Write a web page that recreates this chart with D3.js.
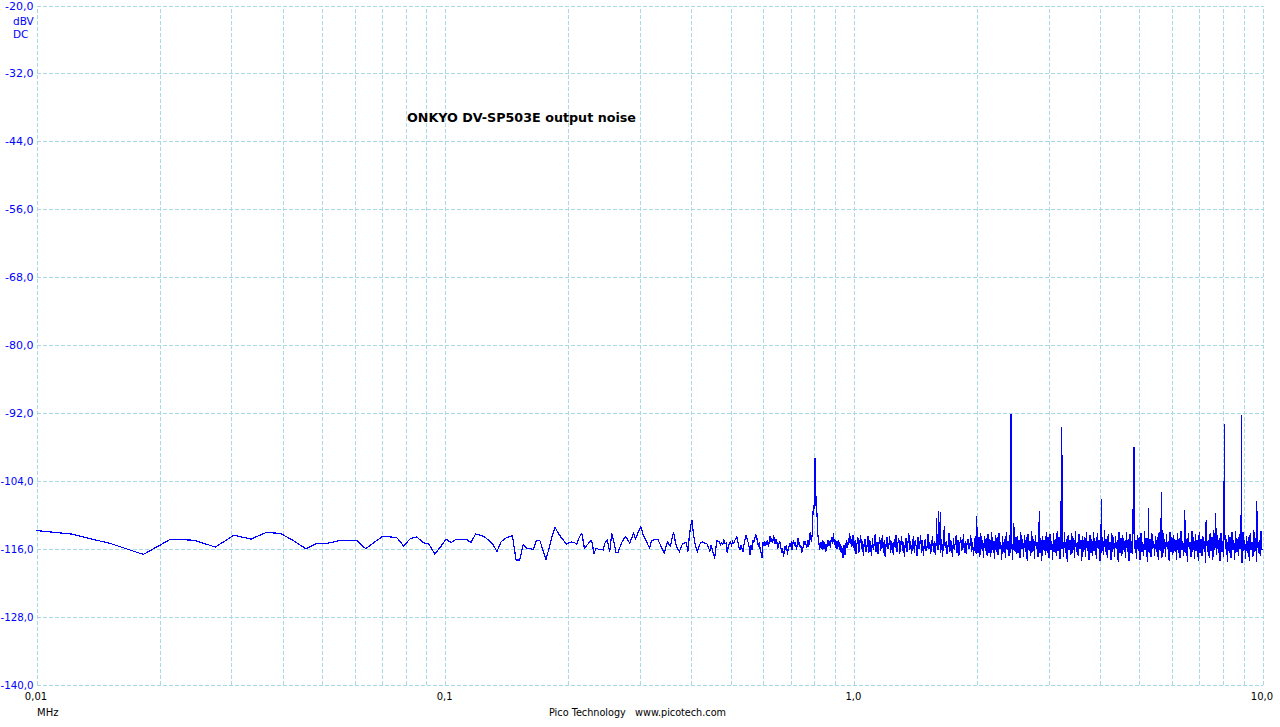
<!DOCTYPE html>
<html>
<head>
<meta charset="utf-8">
<script src="https://cdn.jsdelivr.net/npm/d3@7"></script>
<style>
  html, body { margin: 0; padding: 0; background: #ffffff; }
  svg { display: block; }
</style>
</head>
<body>
<svg id="chart" width="1280" height="727"></svg>
<script>
// ---------------- DATA ----------------
const titleText = "ONKYO DV-SP503E output noise";
const footerText = "Pico Technology   www.picotech.com";
const xUnit = "MHz";
const yUnit = ["dBV", "DC"];

const yTicks = [-20, -32, -44, -56, -68, -80, -92, -104, -116, -128, -140];
const yTickLabels = ["-20,0", "-32,0", "-44,0", "-56,0", "-68,0", "-80,0", "-92,0", "-104,0", "-116,0", "-128,0", "-140,0"];
const xLabelValues = [0.01, 0.1, 1, 10];
const xTickLabels = ["0,01", "0,1", "1,0", "10,0"];

// FFT bins (bin width in MHz), values in dBV for bins 3..327 (up to ~1 MHz)
const binWidth = 0.0030518;
const firstBin = 3;
const binValues = [
  -112.6,-113.5,-115.2,-117.1,-114.4,-114.6,-115.8,-113.7,-114.4,-113.2,-113.4,-114.7,-116.1,-115.1,-115.1,
  -114.7,-114.7,-114.7,-116.1,-115.0,-114.0,-114.0,-114.1,-115.6,-114.3,-114.0,-115.0,-115.3,-117.0,-115.8,
  -114.4,-115.0,-114.4,-114.4,-114.4,-115.0,-113.5,-113.7,-114.0,-114.6,-115.3,-116.6,-114.9,-114.3,-114.0,
  -113.8,-118.1,-118.1,-115.4,-116.0,-116.1,-116.2,-114.6,-114.6,-116.3,-118.0,-116.0,-114.0,-112.3,-113.2,
  -114.0,-114.6,-115.3,-115.0,-114.9,-115.0,-115.3,-114.0,-113.4,-116.0,-115.5,-115.0,-114.6,-116.9,-116.0,
  -116.2,-116.2,-116.3,-114.9,-114.6,-116.7,-113.4,-114.8,-116.8,-116.8,
  -115.8,-114.9,-114.3,-114.0,-114.6,-115.1,-114.2,-113.4,-114.3,-113.6,-112.8,-112.2,-113.4,-114.1,-114.7,
  -115.4,-116.0,-114.7,-114.6,-114.4,-114.5,-114.5,-115.1,-115.8,-116.4,-116.8,-115.7,-114.9,-115.3,-115.6,
  -114.2,-113.1,-114.6,-115.8,-116.2,-116.6,-115.9,-115.3,-115.2,-115.0,-115.1,-116.6,-114.0,-112.2,-111.0,
  -113.2,-114.9,-115.8,-116.6,-115.9,-115.3,-115.0,-114.9,-115.0,-115.1,-115.2,-115.3,-116.0,-116.5,-115.5,
  -116.2,-117.0,-117.8,-116.0,-114.7,-114.8,-114.9,-115.4,-115.1,-115.3,-114.6,-115.2,-115.1,-116.9,-115.6,
  -115.2,-114.9,-115.5,-114.8,-115.1,-114.6,-114.3,-114.0,-115.0,-115.8,-116.3,-115.4,-116.0,-116.6,-115.3,
  -114.4,-113.7,-114.3,-114.9,-115.6,-117.2,-115.5,-116.3,-114.5,-114.9,-114.3,-113.7,-113.9,-114.9,-115.6,
  -115.2,-116.3,-117.0,-117.8,-114.9,-115.6,-114.8,-115.4,-115.1,-114.6,-115.8,-114.8,-113.9,-114.9,-114.3,
  -115.0,-113.7,-114.6,-115.3,-114.5,-114.9,-116.0,-115.8,-114.7,-115.1,-116.0,-116.8,-115.9,-117.5,-116.6,
  -115.7,-116.3,-115.4,-117.2,-116.0,-115.8,-115.1,-115.7,-114.8,-116.3,-115.2,-114.5,-115.6,-114.9,-115.5,
  -116.3,-115.0,-114.3,-115.4,-114.9,-116.0,-115.6,-116.9,-116.1,-115.8,-114.7,-115.5,-114.9,-115.3,-116.0,
  -115.1,-114.6,-115.7,-114.2,-113.1,-114.5,-114.9,-113.2,-109.8,-110.0,-107.8,-100.1,-104.5,-110.4,-109.8,
  -113.0,-114.5,-115.2,-116.3,-115.4,-114.9,-115.8,-116.3,-114.6,-115.5,-116.2,-115.0,-116.6,-115.3,-116.4,
  -114.8,-114.5,-115.6,-114.7,-115.1,-116.0,-114.6,-114.0,-115.2,-114.4,-113.4,-114.8,-115.5,-114.5,-115.9,
  -114.7,-116.1,-115.1,-114.6,-115.7,-114.9,-116.3,-115.2,-116.8,-115.6,-117.1,-117.8,-116.2,-115.4,-116.9,
  -117.2,-115.8,-114.6,-115.9,-114.9,-115.5,-114.2,-115.0,-113.4,-114.6,-115.3,-114.3,-115.7,-114.5,-113.7
];

// Dense region 1..10 MHz: values read at evenly spaced log positions
const hiStart = 1, hiEnd = 10;
const hiValues = [
  -113.9,-116.4,-114.6,-117.0,-115.2,-114.1,-116.8,-115.5,-113.6,-116.1,-114.8,-117.3,-115.0,-114.3,-116.6,
  -115.7,-113.8,-116.9,-114.5,-115.9,-117.4,-114.2,-116.3,-115.1,-113.5,-116.7,-114.9,-117.1,-115.4,-114.0,
  -116.5,-115.2,-113.7,-116.8,-114.6,-117.6,-115.3,-114.1,-116.2,-115.6,-113.9,-116.9,-114.7,-115.8,-117.2,
  -114.4,-116.0,-113.6,-116.6,-115.1,-114.3,-117.0,-115.5,-113.8,-116.4,-114.9,-117.5,-115.2,-114.2,-116.7,
  -115.0,-113.4,-116.3,-114.8,-117.1,-115.6,-113.9,-116.8,-114.5,-115.7,-117.3,-114.0,-116.1,-115.3,-113.7,
  -116.9,-114.6,-117.4,-115.1,-114.4,-116.5,-115.8,-113.5,-116.2,-114.9,-117.0,-115.4,-113.8,-116.6,-114.7,
  -117.2,-115.0,-114.1,-116.4,-115.5,-113.6,-116.9,-114.3,-117.5,-115.2,-113.9,-116.0,-114.8,-117.1,-115.7,
  -113.4,-116.7,-114.5,-115.9,-117.6,-114.2,-116.3,-115.0,-113.7,-116.8,-114.6,-117.3,-115.3,-114.0,-116.5,
  -115.6,-113.5,-116.9,-114.7,-117.0,-115.1,-114.4,-116.2,-115.8,-113.6,-116.6,-114.9,-117.4,-115.4,-113.9,
  -117.1,-113.6,-116.8,-114.0,-117.5,-113.3,-116.2,-114.6,-117.8,-113.8,-116.5,-114.2,-117.3,-113.5,-116.9,
  -114.4,-117.6,-113.2,-116.4,-114.8,-117.9,-113.7,-116.7,-114.1,-117.2,-113.4,-116.1,-114.9,-118.1,-113.9,
  -116.6,-114.3,-117.7,-113.1,-116.3,-114.7,-117.4,-113.6,-116.8,-114.5,-118.0,-113.3,-116.5,-114.0,-117.1,
  -113.8,-116.9,-114.6,-117.8,-113.2,-116.2,-114.4,-117.5,-113.7,-116.7,-114.1,-118.2,-113.5,-116.4,-114.8,
  -117.3,-113.0,-116.6,-114.3,-117.9,-113.6,-116.1,-114.9,-117.6,-113.4,-116.8,-114.2,-118.3,-113.8,-116.3,
  -114.5,-117.2,-113.1,-116.9,-114.0,-117.7,-113.5,-116.4,-114.7,-118.1,-113.3,-116.7,-114.4,-117.4,-112.9,
  -116.5,-114.1,-117.9,-113.6,-116.2,-114.8,-117.5,-113.2,-116.9,-114.3,-118.4,-113.7,-116.3,-114.6,-117.2,
  -113.4,-116.8,-114.2,-117.8,-113.0,-116.6,-114.9,-117.3,-113.5,-116.1,-114.5,-118.2,-113.8,-116.7,-114.0,
  -117.6,-113.2,-116.4,-114.7,-118.0,-113.6,-116.9,-114.3,-117.4,-113.1,-116.5,-114.8,-117.9,-113.4,-116.2,
  -114.6,-118.3,-113.7,-116.8,-114.1,-117.2,-112.8,-116.6,-114.4,-117.7,-113.5,-116.3,-114.9,-118.1,-113.3,
  -116.7,-114.0,-117.5,-113.8,-116.1,-114.6,-118.4,-113.2,-116.9,-114.2,-117.3,-113.6,-116.4,-114.8,-117.8,
  -113.1,-116.6,-114.3,-118.2,-113.5,-116.8,-114.7,-117.1,-112.9,-116.2,-114.5,-117.9,-113.7,-116.5,-114.1,
  -118.0,-113.4,-116.7,-114.9,-117.4,-113.0,-116.3,-114.2,-118.5,-113.6,-116.9,-114.4,-117.6,-113.3,-116.1,
  -114.7,-117.3,-113.8,-116.6,-114.0,-118.1,-113.2,-116.4,-114.6,-117.7,-112.8,-116.8,-114.3,-117.5,-113.5,
  -116.2,-114.8,-118.3,-113.1,-116.7,-114.1,-117.2,-113.7,-116.5,-114.5,-118.0,-113.4,-116.9,-114.2,-117.8,
  -113.0,-116.3,-114.7,-117.4,-113.6,-116.8,-114.4,-118.4,-113.3,-116.1,-114.9,-117.6,-112.9,-116.6,-114.0,
  -117.9,-113.5,-116.4,-114.6,-118.2,-113.2,-116.9,-114.3,-117.3,-113.8,-116.2,-114.8,-118.6,-113.1,-116.7,
  -114.5,-117.7,-113.4,-116.5,-114.1,-118.0,-112.8,-116.3,-114.9,-117.2,-113.6,-116.8,-114.2,-118.3,-113.3,
  -116.6,-114.7,-117.5,-113.0,-116.1,-114.4,-118.5,-113.7,-116.9,-114.0,-117.8,-113.2,-116.4,-114.6,-118.1,
  -112.9,-116.7,-114.3,-117.4,-113.5,-116.2,-114.8,-118.7,-113.1,-116.5,-114.5,-117.9,-113.8,-116.8,-114.1,
  -118.2,-113.4,-116.3,-114.9,-117.6,-112.7,-116.6,-114.2,-118.4,-113.6,-116.9,-114.6,-117.3,-113.0,-116.4
];

// Spurs / harmonics in the 1..10 MHz range
const peakFreqs  = [1.596, 1.615, 1.633, 1.67, 2.003, 2.430, 2.437, 2.47, 2.85, 3.235, 3.245, 4.05, 4.85, 4.86, 5.27, 5.67, 6.47, 7.30, 7.70, 8.09, 8.90, 9.70, 9.73];
const peakValues = [-110.7, -109.4, -109.6, -112.0, -110.3, -92.3, -92.9, -111.5, -109.4, -94.6, -99.5, -107.3, -99.1, -98.1, -108.9, -106.1, -109.3, -111.0, -109.8, -94.0, -92.5, -107.7, -110.8];

// ---------------- BUILD SERIES ----------------
const series = [];
binValues.forEach((v, i) => series.push({ f: (firstBin + i) * binWidth, v }));
const hiN = hiValues.length;
hiValues.forEach((v, i) => series.push({ f: hiStart * Math.pow(hiEnd / hiStart, i / (hiN - 1)), v }));
peakFreqs.forEach((f, i) => series.push({ f, v: peakValues[i] }));
series.sort((a, b) => a.f - b.f);

// ---------------- DRAW ----------------
const L = 36, R = 1262, T = 5, B = 684;
const svg = d3.select("#chart");
const x = d3.scaleLog().domain([0.01, 10]).range([L, R]);
const y = d3.scaleLinear().domain([-140, -20]).range([B, T]);

const gridColor = "#a9d8e6";
const dash = "4,2";

// vertical grid (log minor ticks)
const xGridVals = x.ticks();
const gx = svg.append("g").attr("transform", `translate(0.5,${B + 0.5})`)
  .call(d3.axisBottom(x).tickValues(xGridVals).tickSize(-(B - T)).tickFormat(""));
gx.select(".domain").remove();
gx.selectAll(".tick line").attr("stroke", gridColor).attr("stroke-dasharray", dash).attr("shape-rendering", "crispEdges");

// horizontal grid + y labels
const gy = svg.append("g").attr("transform", `translate(${L + 0.5},0.5)`)
  .call(d3.axisLeft(y).tickValues(yTicks).tickSize(-(R - L)).tickPadding(3)
    .tickFormat((d, i) => yTickLabels[i]));
gy.select(".domain").remove();
gy.selectAll(".tick line").attr("stroke", gridColor).attr("stroke-dasharray", dash).attr("shape-rendering", "crispEdges");
gy.selectAll(".tick text")
  .attr("fill", "#0000ff")
  .attr("font-family", "'DejaVu Sans', Verdana, sans-serif")
  .attr("font-size", "11px")
  .attr("dy", "0.32em")
  .each(function () {
    const w = this.getComputedTextLength();
    if (w > 33) {
      d3.select(this).attr("textLength", 33).attr("lengthAdjust", "spacingAndGlyphs");
    }
  });

// unit labels
svg.selectAll("text.yunit").data(yUnit).enter().append("text")
  .attr("class", "yunit")
  .attr("x", 13)
  .attr("y", (d, i) => 25 + i * 12.5)
  .attr("fill", "#0000ff")
  .attr("font-family", "'DejaVu Sans', Verdana, sans-serif")
  .attr("font-size", "10.5px")
  .text(d => d);

// x labels
svg.selectAll("text.xlab").data(xLabelValues).enter().append("text")
  .attr("class", "xlab")
  .attr("x", d => x(d))
  .attr("y", 700)
  .attr("text-anchor", "middle")
  .attr("fill", "#000")
  .attr("font-family", "'DejaVu Sans', Tahoma, sans-serif")
  .attr("font-size", "10px")
  .text((d, i) => xTickLabels[i]);

svg.append("text")
  .attr("x", 37).attr("y", 716)
  .attr("fill", "#000")
  .attr("font-family", "'DejaVu Sans', Tahoma, sans-serif")
  .attr("font-size", "10px")
  .text(xUnit);

// footer
svg.append("text")
  .attr("x", 549).attr("y", 716)
  .attr("fill", "#000")
  .attr("font-family", "'DejaVu Sans', Tahoma, sans-serif")
  .attr("font-size", "10px")
  .attr("textLength", 177)
  .attr("lengthAdjust", "spacingAndGlyphs")
  .style("white-space", "pre")
  .text(footerText);

// title
svg.append("text")
  .attr("x", 407).attr("y", 122)
  .attr("fill", "#000")
  .attr("font-family", "'DejaVu Sans', Verdana, sans-serif")
  .attr("font-weight", "bold")
  .attr("font-size", "11.5px")
  .attr("textLength", 229)
  .attr("lengthAdjust", "spacingAndGlyphs")
  .text(titleText);

// clip + data line
svg.append("clipPath").attr("id", "plotclip")
  .append("rect").attr("x", L).attr("y", T).attr("width", R - L + 1).attr("height", B - T);

const line = d3.line().x(d => x(d.f)).y(d => y(d.v));
svg.append("path")
  .datum(series)
  .attr("clip-path", "url(#plotclip)")
  .attr("fill", "none")
  .attr("stroke", "#0000ff")
  .attr("stroke-width", 1.2)
  .attr("stroke-linejoin", "miter")
  .attr("shape-rendering", "crispEdges")
  .attr("d", line);
</script>
</body>
</html>
